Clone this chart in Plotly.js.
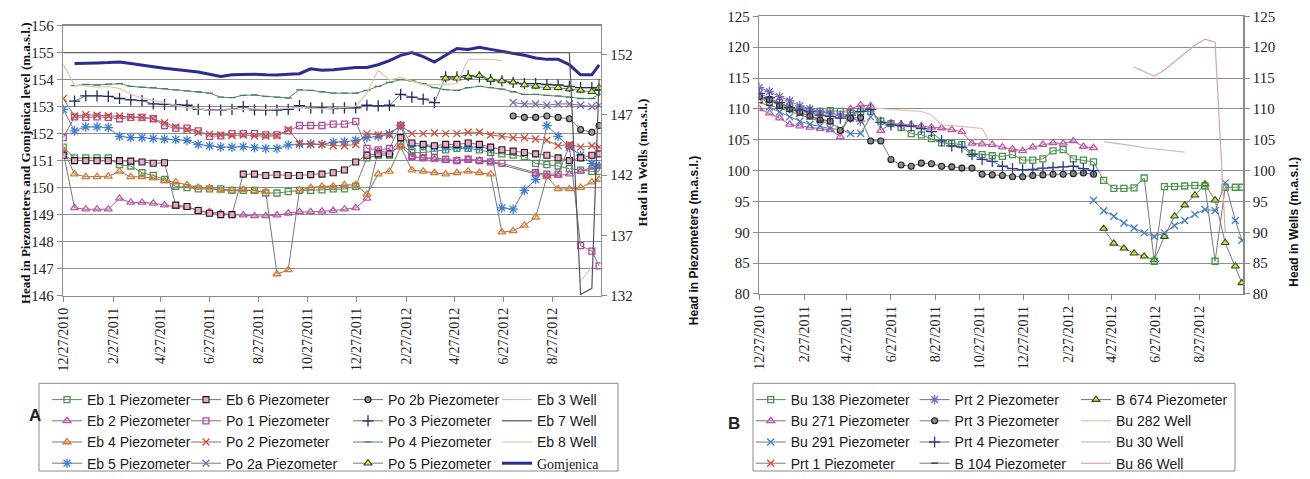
<!DOCTYPE html>
<html><head><meta charset="utf-8">
<script src="https://cdn.plot.ly/plotly-3.0.1.min.js"></script>
<style>html,body{margin:0;padding:0;background:#fff}#chart{width:1310px;height:479px}</style>
</head><body><div id="chart"></div>
<script>
const N = null;
// shared two-week date grid (x values)
const dates = ['2010-12-27','2011-01-10','2011-01-24','2011-02-07','2011-02-21','2011-03-07','2011-03-21','2011-04-04','2011-04-18','2011-05-02',
'2011-05-16','2011-05-30','2011-06-13','2011-06-27','2011-07-11','2011-07-25','2011-08-08','2011-08-22','2011-09-05','2011-09-19',
'2011-10-03','2011-10-17','2011-10-31','2011-11-14','2011-11-28','2011-12-12','2011-12-26','2012-01-09','2012-01-23','2012-02-06',
'2012-02-20','2012-03-05','2012-03-19','2012-04-02','2012-04-16','2012-04-30','2012-05-14','2012-05-28','2012-06-11','2012-06-25',
'2012-07-09','2012-07-23','2012-08-06','2012-08-20','2012-09-03','2012-09-17','2012-10-01','2012-10-15','2012-10-24'];
const tickDates = ['2010-12-27','2011-02-27','2011-04-27','2011-06-27','2011-08-27','2011-10-27','2011-12-27','2012-02-27','2012-04-27','2012-06-27','2012-08-27'];
const tickLabels = ['12/27/2010','2/27/2011','4/27/2011','6/27/2011','8/27/2011','10/27/2011','12/27/2011','2/27/2012','4/27/2012','6/27/2012','8/27/2012'];
const yTicksA = [146,147,148,149,150,151,152,153,154,155,156];
const y2TicksA = [132,137,142,147,152];
const yTicksB = [80,85,90,95,100,105,110,115,120,125];

// ---- Chart A (left axis, m.a.s.l.) ----
const eb1 = [151.5,151.1,151.1,151.1,151.1,150.85,150.8,150.55,150.45,150.3,
150.05,150.0,149.95,149.95,149.95,149.9,149.9,149.9,149.8,149.8,
149.85,149.9,149.9,149.92,149.95,149.95,150.05,151.1,151.2,151.2,
151.6,151.3,151.3,151.35,151.4,151.45,151.45,151.4,151.3,151.25,
151.2,151.15,150.9,150.85,150.8,150.7,150.65,150.6,150.6];
const eb2 = [151.3,149.25,149.2,149.2,149.2,149.6,149.45,149.45,149.42,149.35,
149.3,149.28,149.15,149.1,149.05,149.0,148.98,148.95,148.95,148.98,
149.05,149.1,149.1,149.12,149.15,149.2,149.25,149.6,151.35,151.3,
151.55,151.15,151.1,151.05,151.0,151.0,151.05,151.0,150.95,N,
N,N,150.5,150.45,150.45,150.5,150.6,150.75,150.8];
const eb4 = [151.4,150.5,150.4,150.4,150.42,150.6,150.4,150.4,150.35,150.25,
150.2,150.1,150.0,149.98,149.9,149.9,149.92,149.88,149.85,146.8,
146.95,149.9,150.0,150.05,150.05,150.1,150.1,149.75,150.5,150.6,
151.5,150.65,150.6,150.55,150.5,150.55,150.6,150.55,150.5,148.35,
148.4,148.6,148.9,150.4,149.95,149.95,150.0,150.2,150.3];
const eb5 = [152.9,152.1,152.25,152.25,152.22,151.9,151.85,151.85,151.82,151.8,
151.78,151.75,151.6,151.55,151.5,151.5,151.52,151.48,151.45,151.45,
151.58,151.6,151.62,151.6,151.68,151.7,151.75,151.85,151.9,152.0,
152.3,151.55,151.55,151.5,151.5,151.52,151.5,151.5,151.45,149.25,
149.2,149.9,150.3,152.3,151.9,151.5,151.2,150.9,150.8];
const eb6 = [151.2,151.0,151.0,151.0,151.0,151.0,150.98,150.95,150.9,150.92,
149.35,149.3,149.15,149.05,149.0,149.0,150.5,150.5,150.45,150.48,
150.45,150.45,150.48,150.5,150.55,150.65,150.95,151.2,151.25,151.25,
151.85,151.65,151.6,151.55,151.6,151.6,151.65,151.6,151.5,151.4,
151.35,151.3,151.25,151.2,151.1,151.0,151.1,151.2,151.25];
const po1 = [151.85,152.62,152.6,152.62,152.6,152.55,152.6,152.6,152.55,152.3,
152.2,152.2,152.1,151.9,151.92,152.0,152.0,152.0,151.95,151.95,
152.1,152.3,152.3,152.3,152.35,152.35,152.45,151.45,151.4,151.45,
152.3,151.15,151.1,151.1,151.05,151.0,151.05,151.0,150.95,150.9,
N,N,150.55,150.5,150.5,151.55,147.85,147.65,147.1];
const po2 = [153.3,152.65,152.7,152.68,152.65,152.65,152.62,152.6,152.55,152.4,
152.25,152.15,152.05,151.98,151.95,151.93,151.95,151.92,151.9,151.92,
152.15,151.65,151.6,151.6,151.55,151.55,151.6,152.0,151.95,151.95,
152.3,152.0,152.0,152.02,152.0,152.0,152.05,152.05,151.95,151.9,
151.85,151.85,151.8,151.75,151.55,151.6,151.5,151.55,151.5];
const po2a = [N,N,N,N,N,N,N,N,N,N, N,N,N,N,N,N,N,N,N,N, N,N,N,N,N,N,N,N,N,N, N,N,N,N,N,N,N,N,N,N,
153.15,153.1,153.1,153.05,153.1,153.1,153.05,153.0,153.05];
const po2b = [N,N,N,N,N,N,N,N,N,N, N,N,N,N,N,N,N,N,N,N, N,N,N,N,N,N,N,N,N,N, N,N,N,N,N,N,N,N,N,N,
152.65,152.6,152.6,152.65,152.6,152.55,152.15,152.05,152.3];
const po3 = [N,153.2,153.4,153.4,153.38,153.3,153.25,153.22,153.1,153.08,
153.07,153.05,152.9,152.88,152.87,152.9,153.0,152.88,152.88,152.87,
152.9,153.04,152.95,152.95,152.93,152.95,152.95,153.05,153.03,153.05,
153.45,153.35,153.28,153.15,154.1,154.1,154.15,154.1,154.0,153.95,
153.9,153.85,153.85,153.82,153.8,153.75,153.7,153.7,153.6];
const po4 = [N,153.78,153.82,153.8,153.83,153.85,153.75,153.72,153.7,153.67,
153.62,153.58,153.55,153.5,153.35,153.33,153.42,153.43,153.38,153.35,
153.32,153.62,153.6,153.55,153.5,153.5,153.5,153.6,153.75,153.9,
154.0,153.95,153.85,153.7,153.63,153.6,153.7,153.75,153.7,153.65,
153.55,153.45,153.45,153.42,153.4,153.35,153.3,153.3,153.45];
const po5 = [N,N,N,N,N,N,N,N,N,N, N,N,N,N,N,N,N,N,N,N, N,N,N,N,N,N,N,N,N,N,
N,N,N,N,154.05,154.05,154.1,154.15,154.0,153.95,
153.9,153.8,153.75,153.7,153.7,153.65,153.6,153.55,153.7];
const gomjenica = [N,154.6,154.62,154.62,154.63,154.65,154.6,154.53,154.48,154.42,
154.37,154.33,154.28,154.2,154.12,154.18,154.2,154.2,154.18,154.17,
154.2,154.22,154.4,154.35,154.37,154.4,154.45,154.45,154.55,154.7,
154.9,155.0,154.85,154.65,154.9,155.15,155.12,155.2,155.12,155.05,
154.98,154.9,154.8,154.75,154.75,154.55,154.18,154.18,154.55];
// Chart A wells (right axis)
const eb3Well = [N,N,N,N,N,N,N,N,N,N, N,N,N,N,N,N,N,N,N,N, N,N,N,N,N,N,N,N,N,N, N,N,N,N,N,N,N,N,N,N,
N,N,N,N,N,N,133.2,134.4,N];
const eb7Well = [152.15,152.15,152.15,152.15,152.15,152.15,152.15,152.15,152.15,152.15,
152.15,152.15,152.15,152.15,152.15,152.15,152.15,152.15,152.15,152.15,
152.15,152.15,152.15,152.15,152.15,152.15,152.15,152.15,152.15,152.15,
152.15,152.15,152.15,152.15,152.15,152.15,152.15,152.15,152.15,152.15,
152.15,152.15,152.15,152.15,152.15,152.15,132.1,132.6,150.0];
const eb8Well = [151.2,149.45,149.4,149.3,149.35,149.2,148.7,148.4,148.2,148.0,
147.8,147.6,147.5,147.4,147.4,147.45,147.5,147.5,147.45,147.5,
147.5,147.6,147.55,147.5,147.55,147.6,147.7,148.8,150.7,149.9,
150.1,149.8,149.5,149.5,149.5,149.6,151.6,151.6,151.6,151.5,
N,N,N,N,N,N,N,N,N];

// ---- Chart B ----
const bu138 = [112.0,111.5,111.0,110.3,109.9,109.6,109.6,109.7,109.6,109.4,
109.5,109.6,108.0,107.6,107.0,106.0,105.8,105.2,104.5,104.4,
104.2,102.8,102.6,102.4,102.3,102.6,101.7,101.7,101.9,103.2,
103.4,101.9,101.7,101.4,98.4,97.1,97.1,97.2,98.8,85.3,
97.4,97.4,97.5,97.6,97.5,85.3,97.3,97.3,97.3];
const bu271 = [110.0,109.3,108.5,107.5,107.2,107.0,106.8,106.6,105.5,110.0,
110.6,110.5,106.5,107.6,107.5,107.4,107.2,107.0,106.9,106.6,
106.3,104.4,104.3,104.2,103.8,103.5,103.2,103.8,104.2,104.5,
104.4,104.8,103.9,103.7,N,N,N,N,N,N,
N,N,N,N,N,N,N,N,N];
const bu291 = [112.5,110.3,109.5,108.7,108.0,107.5,107.2,106.8,106.7,106.0,
106.0,108.7,N,N,N,N,N,N,N,N,
N,N,N,N,N,N,N,N,N,N,
N,N,N,95.2,93.5,92.6,91.5,90.7,89.9,89.3,
89.9,91.1,91.9,92.9,93.7,93.5,98.0,91.9,88.7];
const prt1 = [111.7,111.5,110.8,110.0,109.3,108.8,108.4,108.0,N,N,
N,N,N,N,N,N,N,N,N,N, N,N,N,N,N,N,N,N,N,N, N,N,N,N,N,N,N,N,N,N, N,N,N,N,N,N,N,N,N];
const prt2 = [113.5,112.8,112.0,111.3,110.5,110.0,109.5,109.3,109.0,108.5,
108.0,N,N,N,N,N,N,N,N,N, N,N,N,N,N,N,N,N,N,N, N,N,N,N,N,N,N,N,N,N, N,N,N,N,N,N,N,N,N];
const prt3 = [112.0,111.5,110.5,110.0,109.5,108.8,108.2,108.0,106.5,108.5,
108.6,104.8,104.8,101.8,100.9,100.7,101.2,101.1,100.7,100.6,
100.4,100.4,99.4,99.3,99.2,99.0,99.0,99.2,99.3,99.4,
99.4,99.5,99.6,99.4,N,N,N,N,N,N,
N,N,N,N,N,N,N,N,N];
const prt4 = [112.5,111.8,111.0,110.2,109.8,109.5,109.0,108.8,108.5,109.0,
109.6,109.9,107.8,107.4,107.3,107.2,106.8,106.3,104.8,104.0,
103.8,102.6,101.8,101.5,100.7,100.3,100.1,100.2,100.4,100.5,
100.6,100.7,100.3,100.0,N,N,N,N,N,N,
N,N,N,N,N,N,N,N,N];
const b104 = [111.0,110.6,110.1,109.6,109.0,108.5,108.0,107.6,N,N,
N,N,N,N,N,N,N,N,N,N, N,N,N,N,N,N,N,N,N,N, N,N,N,N,N,N,N,N,N,N, N,N,N,N,N,N,N,N,N];
const b674 = [N,N,N,N,N,N,N,N,N,N, N,N,N,N,N,N,N,N,N,N, N,N,N,N,N,N,N,N,N,N,
N,N,N,N,90.6,88.2,87.4,86.6,86.1,85.5,
89.3,92.6,94.4,96.0,97.8,95.2,88.3,84.5,81.8];
// Chart B wells (right axis)
const bu282Well = [N,N,N,N,N,N,N,N,N,N,
N,110.2,110.0,109.9,109.8,109.7,109.6,109.0,107.4,107.3,
107.2,107.0,106.8,104.0,N,N,N,N,N,N,
N,N,N,N,N,N,N,N,N,N, N,N,N,N,N,N,N,N,N];
const bu30Well = [N,N,N,N,N,N,N,N,N,N, N,N,N,N,N,N,N,N,N,N, N,N,N,N,N,N,N,N,N,N,
N,N,N,N,104.7,104.5,104.2,104.0,103.7,103.5,
103.3,103.2,103.0,N,N,N,N,N,N];
const bu86Well = [N,N,N,N,N,N,N,N,N,N, N,N,N,N,N,N,N,N,N,N, N,N,N,N,N,N,N,N,N,N,
N,N,N,N,N,N,N,116.8,116.0,115.3,
116.3,117.6,119.0,120.3,121.3,120.8,90.0,N,N];

const W = 1310, H = 479;
const px = v => v / W, py = v => 1 - v / H;
const LINE = '#777777';
let gid = 0;

function piezo(name, y, legend, marker, xa, ya, gaps) {
  return {type:'scatter', mode:'lines+markers', name, x:dates, y, legend, legendgroup:'g' + (gid++), xaxis:xa, yaxis:ya,
    connectgaps: gaps !== false, line:{color:LINE, width:1}, marker};
}
function well(name, y, legend, color, width, xa, ya) {
  return {type:'scatter', mode:'lines', name, x:dates, y, legend, legendgroup:'g' + (gid++), xaxis:xa, yaxis:ya,
    connectgaps:false, line:{color, width}};
}
const mOpen = (symbol, color, size) => ({symbol, color, size: size || 6, line:{color, width:1.3}});
const mFill = (symbol, fill, edge, size) => ({symbol, color:fill, size: size || 6, line:{color:edge, width:1.1}});

const traces = [
  // A wells (legend4)
  well('Eb 3 Well', eb3Well, 'legend4', '#c9b8b8', 1, 'x', 'y2'),
  well('Eb 7 Well', eb7Well, 'legend4', '#5e4e5e', 1.2, 'x', 'y2'),
  well('Eb 8 Well', eb8Well, 'legend4', '#e2c6aa', 1.2, 'x', 'y2'),
  // A col1
  piezo('Eb 1 Piezometer', eb1, 'legend', mOpen('square-open', '#3f9a45'), 'x', 'y'),
  piezo('Eb 2 Piezometer', eb2, 'legend', mOpen('triangle-up-open', '#c84fb0', 7), 'x', 'y'),
  piezo('Eb 4 Piezometer', eb4, 'legend', mOpen('triangle-up-open', '#e07a22', 7), 'x', 'y'),
  piezo('Eb 5 Piezometer', eb5, 'legend', mOpen('asterisk-open', '#3b7fd4', 8), 'x', 'y'),
  // A col2
  piezo('Eb 6 Piezometer', eb6, 'legend2', mFill('square', '#eea6c8', '#1a1a1a'), 'x', 'y'),
  piezo('Po 1 Piezometer', po1, 'legend2', mOpen('square-open', '#b844a4'), 'x', 'y'),
  piezo('Po 2 Piezometer', po2, 'legend2', mOpen('x-thin-open', '#e2452e', 7), 'x', 'y'),
  piezo('Po 2a Piezometer', po2a, 'legend2', mOpen('x-thin-open', '#7d66c4', 7), 'x', 'y'),
  // A col3
  piezo('Po 2b Piezometer', po2b, 'legend3', mFill('circle', '#9a9a9a', '#1a1a1a'), 'x', 'y'),
  piezo('Po 3 Piezometer', po3, 'legend3', mOpen('cross-thin-open', '#1e2c6e', 8), 'x', 'y'),
  piezo('Po 4 Piezometer', po4, 'legend3', mOpen('line-ew-open', '#2f8f55', 5), 'x', 'y'),
  piezo('Po 5 Piezometer', po5, 'legend3', mFill('triangle-up', '#e6e24a', '#24541f', 7), 'x', 'y'),
  // Gomjenica (legend4, last)
  {type:'scatter', mode:'lines', name:'<span style="font-family:Liberation Serif">Gomjenica</span>', x:dates, y:gomjenica,
    legend:'legend4', legendgroup:'g' + (gid++), xaxis:'x', yaxis:'y', line:{color:'#2b2b94', width:3}},

  // B col3 (legend7): B 674 first in legend, wells after
  piezo('B 674 Piezometer', b674, 'legend7', mFill('triangle-up', '#d6dc48', '#24541f', 7), 'x2', 'y3'),
  well('Bu 282 Well', bu282Well, 'legend7', '#e0c6ae', 1.2, 'x2', 'y4'),
  well('Bu 30 Well', bu30Well, 'legend7', '#c6bcbc', 1.2, 'x2', 'y4'),
  well('Bu 86 Well', bu86Well, 'legend7', '#d9a2a2', 1.2, 'x2', 'y4'),
  // B col1
  piezo('Bu 138 Piezometer', bu138, 'legend5', mOpen('square-open', '#3f9a45'), 'x2', 'y3'),
  piezo('Bu 271 Piezometer', bu271, 'legend5', mOpen('triangle-up-open', '#cc4fb4', 7), 'x2', 'y3'),
  piezo('Bu 291 Piezometer', bu291, 'legend5', mOpen('x-thin-open', '#3b7fd4', 7), 'x2', 'y3', false),
  piezo('Prt 1 Piezometer', prt1, 'legend5', mOpen('x-thin-open', '#e2452e', 7), 'x2', 'y3'),
  // B col2
  piezo('Prt 2 Piezometer', prt2, 'legend6', mOpen('asterisk-open', '#7d66c4', 8), 'x2', 'y3'),
  piezo('Prt 3 Piezometer', prt3, 'legend6', mFill('circle', '#8a8a8a', '#1a1a1a'), 'x2', 'y3'),
  piezo('Prt 4 Piezometer', prt4, 'legend6', mOpen('cross-thin-open', '#2a3c8c', 8), 'x2', 'y3'),
  piezo('B 104 Piezometer', b104, 'legend6', mOpen('line-ew-open', '#333333', 5), 'x2', 'y3'),
];

const serif = 'Liberation Serif';
const sans = 'Liberation Sans';
const GRID = '#8e8e8e';
const AX = '#8a8a8a';

const dateAxis = (domain, anchor) => ({
  domain, anchor, type:'date', range:['2010-12-27','2012-10-26'],
  tickmode:'array', tickvals:tickDates, ticktext:tickLabels, tickangle:-90,
  ticks:'outside', ticklen:5, tickcolor:AX, showline:true, linecolor:AX, linewidth:1.5, mirror:true,
  showgrid:false, zeroline:false, tickfont:{family:serif, size:14, color:'#222'}
});
const valAxis = (extra) => Object.assign({
  ticks:'outside', ticklen:5, tickcolor:AX, showline:true, linecolor:AX, linewidth:1.5,
  zeroline:false, tickfont:{family:serif, size:15, color:'#222'}, tickmode:'array'
}, extra);

const legendBase = (x) => ({x:px(x), y:py(390), xanchor:'left', yanchor:'top', orientation:'v',
  bgcolor:'rgba(0,0,0,0)', borderwidth:0, tracegroupgap:1, font:{family:sans, size:14, color:'#1a1a1a'}, traceorder:'normal'});

const layout = {
  width:W, height:H, margin:{l:0, r:0, t:0, b:0},
  font:{family:sans},
  paper_bgcolor:'#ffffff', plot_bgcolor:'#ffffff', showlegend:true, hovermode:false,
  xaxis: dateAxis([px(63.3), px(600.7)], 'y'),
  yaxis: valAxis({domain:[py(300), py(26)], anchor:'x', range:[146,156], tickvals:yTicksA,
    showgrid:true, gridcolor:GRID, gridwidth:1}),
  yaxis2: valAxis({overlaying:'y', side:'right', anchor:'x', range:[132,154.4], tickvals:y2TicksA, showgrid:false}),
  xaxis2: dateAxis([px(759.3), px(1243.3)], 'y3'),
  yaxis3: valAxis({domain:[py(298.3), py(16.6)], anchor:'x2', range:[80,125], tickvals:yTicksB,
    showgrid:true, gridcolor:GRID, gridwidth:1}),
  yaxis4: valAxis({overlaying:'y3', side:'right', anchor:'x2', range:[80,125], tickvals:yTicksB, showgrid:false}),
  legend: legendBase(47), legend2: legendBase(186), legend3: legendBase(348), legend4: legendBase(497),
  legend5: legendBase(750.7), legend6: legendBase(914.6), legend7: legendBase(1076),
  shapes: [
    {type:'rect', xref:'paper', yref:'paper', x0:px(39), x1:px(618), y0:py(478), y1:py(389), line:{color:AX, width:1}},
    {type:'rect', xref:'paper', yref:'paper', x0:px(753), x1:px(1235), y0:py(478), y1:py(389), line:{color:AX, width:1}}
  ],
  annotations: [
    {text:'<b>Head in Piezometers and Gomjenica level (m.a.s.l.)</b>', x:px(16), y:py(166), xref:'paper', yref:'paper',
     showarrow:false, textangle:-90, font:{family:serif, size:13, color:'#111'}},
    {text:'<b>Head in Wells (m.a.s.l.)</b>', x:px(643), y:py(165), xref:'paper', yref:'paper',
     showarrow:false, textangle:-90, font:{family:serif, size:13, color:'#111'}},
    {text:'<b>Head in Piezometers (m.a.s.l.)</b>', x:px(694), y:py(157), xref:'paper', yref:'paper',
     showarrow:false, textangle:-90, font:{family:sans, size:12, color:'#111'}},
    {text:'<b>Head in Wells (m.a.s.l.)</b>', x:px(1303), y:py(157), xref:'paper', yref:'paper',
     showarrow:false, textangle:-90, font:{family:sans, size:12, color:'#111'}},
    {text:'<b>A</b>', x:px(27), y:py(433), xref:'paper', yref:'paper', showarrow:false,
     font:{family:sans, size:17, color:'#222'}},
    {text:'<b>B</b>', x:px(734), y:py(441), xref:'paper', yref:'paper', showarrow:false,
     font:{family:sans, size:17, color:'#222'}}
  ]
};

Plotly.newPlot('chart', traces, layout, {staticPlot:true, displayModeBar:false});
</script>
</body></html>
